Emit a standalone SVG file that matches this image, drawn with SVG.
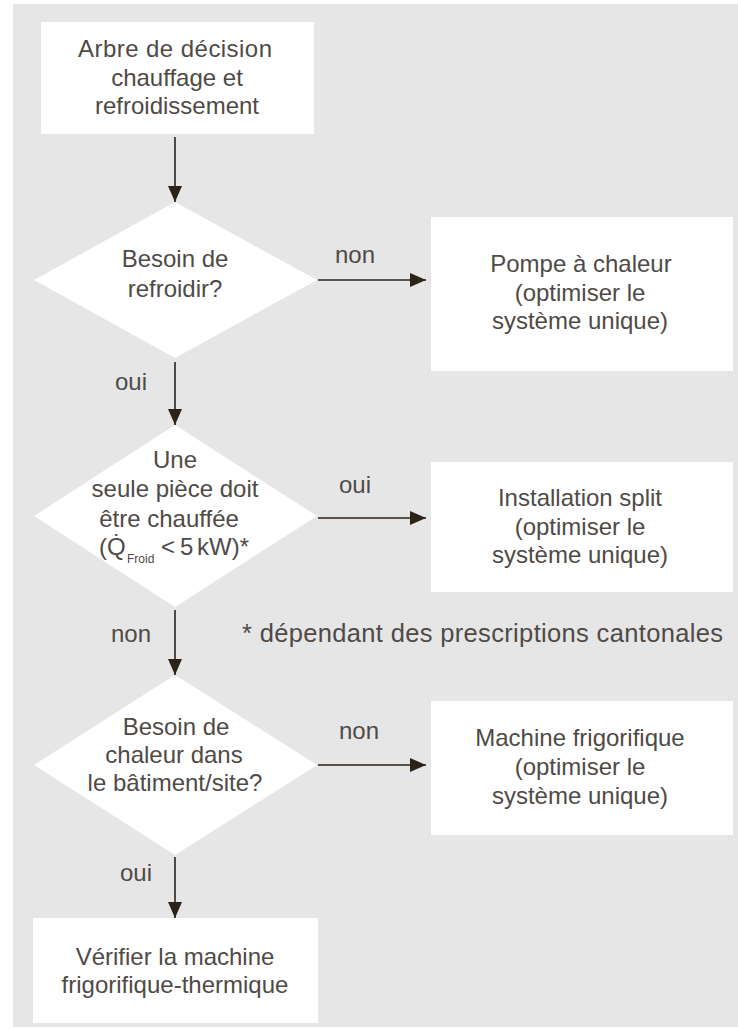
<svg xmlns="http://www.w3.org/2000/svg" width="738" height="1029" viewBox="0 0 738 1029">
<defs>
<style>
.bg{fill:#e6e6e6}
.box{fill:#ffffff}
.t{font-family:"Liberation Sans",Arial,sans-serif;font-size:24px;fill:#4f4a46;text-anchor:middle}
.lbl{font-family:"Liberation Sans",Arial,sans-serif;font-size:24px;fill:#4f4a46}
.note{font-family:"Liberation Sans",Arial,sans-serif;font-size:25.5px;fill:#4f4a46}
.edge{stroke:#2b2218;stroke-width:1.6;fill:none;marker-end:url(#ah)}
</style>
<marker id="ah" viewBox="0 0 16 14" refX="16" refY="7" markerWidth="16" markerHeight="14" markerUnits="userSpaceOnUse" orient="auto">
<path d="M0,0 L16,7 L0,14 Z" fill="#2b2218"/>
</marker>
</defs>
<rect class="bg" x="13" y="4" width="725" height="1023"/>

<g id="start">
<rect class="box" x="41" y="22" width="273" height="112"/>
<text class="t" x="175" y="57" textLength="194">Arbre de décision</text>
<text class="t" x="177" y="86">chauffage et</text>
<text class="t" x="177" y="114">refroidissement</text>
</g>

<g id="d1">
<polygon class="box" points="175,202 317,280 175,358 34,280"/>
<text class="t" x="175" y="267">Besoin de</text>
<text class="t" x="175" y="297">refroidir?</text>
</g>

<g id="pompe">
<rect class="box" x="431" y="217" width="302" height="154"/>
<text class="t" x="581" y="272">Pompe à chaleur</text>
<text class="t" x="580" y="301">(optimiser le</text>
<text class="t" x="580" y="329">système unique)</text>
</g>

<g id="d2">
<polygon class="box" points="175,425 317,516 175,607 34,516"/>
<text class="t" x="175" y="468">Une</text>
<text class="t" x="175" y="497">seule pièce doit</text>
<text class="t" x="169" y="527">être chauffée</text>
<text class="lbl" x="99" y="555">(Q̇<tspan x="127" y="563" font-size="12">Froid</tspan><tspan x="161" y="555">&lt;</tspan><tspan x="180" y="555">5</tspan><tspan x="197" y="555">kW)*</tspan></text>
</g>

<g id="split">
<rect class="box" x="431" y="462" width="302" height="130"/>
<text class="t" x="580" y="506">Installation split</text>
<text class="t" x="580" y="535">(optimiser le</text>
<text class="t" x="580" y="563">système unique)</text>
</g>

<g id="d3">
<polygon class="box" points="175,675 317,765 175,855 34,765"/>
<text class="t" x="176" y="735">Besoin de</text>
<text class="t" x="174" y="763">chaleur dans</text>
<text class="t" x="175" y="791">le bâtiment/site?</text>
</g>

<g id="frigo">
<rect class="box" x="431" y="701" width="302" height="134"/>
<text class="t" x="580" y="746">Machine frigorifique</text>
<text class="t" x="580" y="775">(optimiser le</text>
<text class="t" x="580" y="804">système unique)</text>
</g>

<g id="verifier">
<rect class="box" x="33" y="918" width="285" height="105"/>
<text class="t" x="175" y="965">Vérifier la machine</text>
<text class="t" x="175" y="993">frigorifique-thermique</text>
</g>

<g id="footnote">
<text class="note" x="242" y="642" textLength="481">* dépendant des prescriptions cantonales</text>
</g>

<g id="connectors">
<line class="edge" x1="175" y1="137" x2="175" y2="202"/>
<line class="edge" x1="318" y1="280" x2="426" y2="280"/>
<text class="t" x="355" y="263">non</text>
<line class="edge" x1="175" y1="362" x2="175" y2="425"/>
<text class="t" x="131" y="390">oui</text>
<line class="edge" x1="318" y1="518" x2="426" y2="518"/>
<text class="t" x="355" y="493">oui</text>
<line class="edge" x1="175" y1="610" x2="175" y2="675"/>
<text class="t" x="131" y="642">non</text>
<line class="edge" x1="318" y1="765" x2="426" y2="765"/>
<text class="t" x="359" y="739">non</text>
<line class="edge" x1="175" y1="857" x2="175" y2="918"/>
<text class="t" x="136" y="881">oui</text>
</g>
</svg>
